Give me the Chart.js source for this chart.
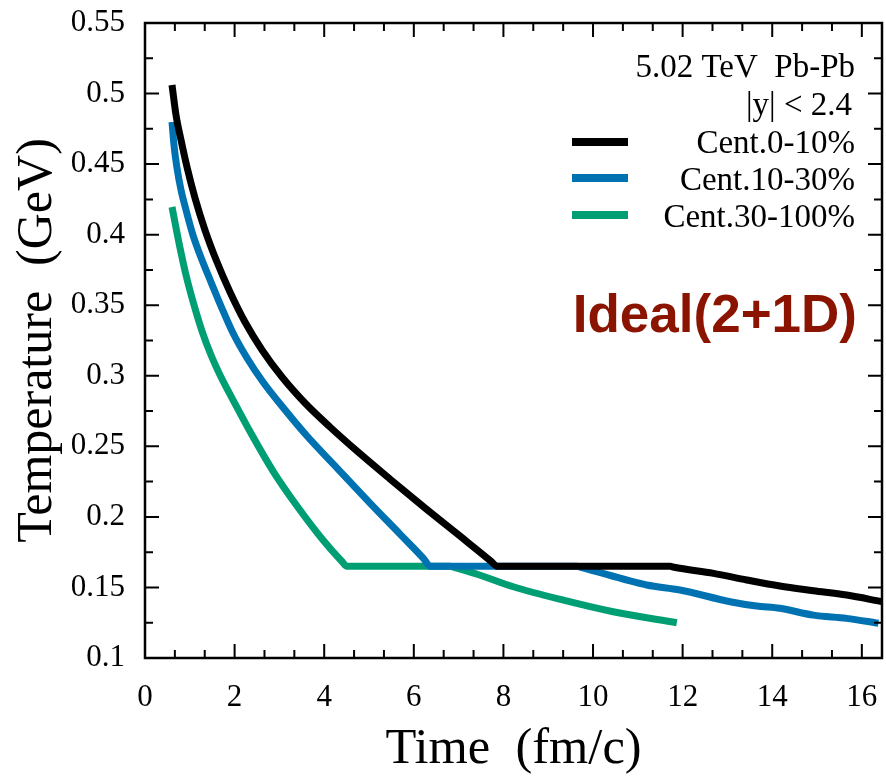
<!DOCTYPE html>
<html>
<head>
<meta charset="utf-8">
<script src="https://cdn.jsdelivr.net/npm/chart.js@4.4.1/dist/chart.umd.min.js"></script>
<style>
  html, body { margin: 0; padding: 0; background: #fff; }
  #wrap { width: 886px; height: 778px; position: relative; }
</style>
</head>
<body>
<div id="wrap"><canvas id="c"></canvas></div>
<script>
// ---- data ----
const seriesLabels = ['Cent.0-10%', 'Cent.10-30%', 'Cent.30-100%'];

const timeCent0_10 = [0.603, 0.692, 0.804, 0.938, 1.116, 1.339, 1.607, 1.897, 2.232, 2.612, 3.058, 3.571, 4.129, 4.754,
                      5.469, 6.250, 7.031, 7.723, 7.857,
                      11.72, 11.81, 12.69, 13.43, 14.17, 14.92, 15.66, 16.44];
const tempCent0_10 = [0.5061, 0.4848, 0.4671, 0.4479, 0.4260, 0.4033, 0.3806, 0.3594, 0.3381, 0.3183, 0.2991, 0.2807, 0.2637, 0.2460,
                      0.2268, 0.2063, 0.1864, 0.1686, 0.165,
                      0.165, 0.1643, 0.160, 0.1553, 0.151, 0.1477, 0.1446, 0.140];

const timeCent10_30 = [0.603, 0.647, 0.714, 0.804, 0.915, 1.071, 1.272, 1.473, 1.696, 1.964, 2.277, 2.634, 3.036, 3.616,
                       4.308, 5.022, 5.692, 6.228, 6.362,
                       9.64, 9.73, 11.20, 11.94, 13.06, 13.65, 14.17, 14.92, 15.66, 16.37];
const tempCent10_30 = [0.4798, 0.4635, 0.4472, 0.4316, 0.4175, 0.3997, 0.3820, 0.3664, 0.3494, 0.3303, 0.3126, 0.2956, 0.2793, 0.2573,
                       0.2339, 0.2098, 0.1878, 0.1701, 0.165,
                       0.165, 0.1643, 0.1517, 0.1482, 0.1399, 0.1368, 0.1352, 0.1304, 0.1281, 0.1246];

const timeCent30_100 = [0.603, 0.759, 0.915, 1.094, 1.272, 1.473, 1.696, 1.942, 2.388, 2.857, 3.393, 3.973, 4.397, 4.509,
                        6.81, 6.90, 7.45, 8.22, 9.34, 10.45, 11.87];
const tempCent30_100 = [0.4196, 0.3941, 0.3714, 0.3501, 0.3317, 0.3147, 0.2991, 0.2842, 0.2580, 0.2325, 0.2077, 0.1836, 0.1684, 0.165,
                        0.165, 0.1643, 0.159, 0.1505, 0.141, 0.1328, 0.125];

const xTickValues = [0, 2, 4, 6, 8, 10, 12, 14, 16];
const xTickLabels = ['0', '2', '4', '6', '8', '10', '12', '14', '16'];
const yTickValues = [0.1, 0.15, 0.2, 0.25, 0.3, 0.35, 0.4, 0.45, 0.5, 0.55];
const yTickLabels = ['0.1', '0.15', '0.2', '0.25', '0.3', '0.35', '0.4', '0.45', '0.5', '0.55'];

const annotationLines = ['5.02 TeV  Pb-Pb', '|y| < 2.4'];
const modelLabel = 'Ideal(2+1D)';

// ---- styles ----
const colors = ['#000000', '#0072b2', '#009e73'];
const serif = '"Liberation Serif", "Times New Roman", serif';

function pts(xs, ys) { return xs.map((v, i) => ({ x: v, y: ys[i] })); }

const datasets = [
  [timeCent0_10, tempCent0_10],
  [timeCent10_30, tempCent10_30],
  [timeCent30_100, tempCent30_100]
].map((d, i) => ({
  label: seriesLabels[i],
  data: pts(d[0], d[1]),
  borderColor: colors[i],
  backgroundColor: colors[i],
  borderWidth: 7,
  pointRadius: 0,
  cubicInterpolationMode: 'monotone',
  fill: false,
  borderCapStyle: 'butt',
  borderJoinStyle: 'round'
}));

const framePlugin = {
  id: 'frame',
  afterDatasetsDraw(chart) {
    const { ctx, chartArea: a, scales: { x, y } } = chart;
    ctx.save();
    ctx.strokeStyle = '#000';
    ctx.lineWidth = 2;
    ctx.beginPath();
    const xMajor = 14, xMinor = 8, yMajor = 14, yMinor = 8;
    const xv = (v, len) => {
      const p = x.getPixelForValue(v);
      if (p < a.left - 0.5 || p > a.right + 0.5) return;
      ctx.moveTo(p, a.bottom); ctx.lineTo(p, a.bottom - len);
      ctx.moveTo(p, a.top); ctx.lineTo(p, a.top + len);
    };
    const yv = (v, len) => {
      const p = y.getPixelForValue(v);
      if (p < a.top - 0.5 || p > a.bottom + 0.5) return;
      ctx.moveTo(a.left, p); ctx.lineTo(a.left + len, p);
      ctx.moveTo(a.right, p); ctx.lineTo(a.right - len, p);
    };
    for (let i = 0; i < xTickValues.length; i++) {
      const v = xTickValues[i];
      xv(v, xMajor);
      const step = (i + 1 < xTickValues.length ? xTickValues[i + 1] : v + 2) - v;
      xv(v + step / 3, xMinor);
      xv(v + 2 * step / 3, xMinor);
    }
    for (let i = 0; i < yTickValues.length; i++) {
      const v = yTickValues[i];
      yv(v, yMajor);
      if (i + 1 < yTickValues.length) yv((v + yTickValues[i + 1]) / 2, yMinor);
    }
    ctx.stroke();
    ctx.lineWidth = 2.5;
    ctx.strokeRect(a.left, a.top, a.right - a.left, a.bottom - a.top);
    ctx.restore();
  }
};

const legendPlugin = {
  id: 'customLegend',
  afterDraw(chart) {
    const { ctx } = chart;
    ctx.save();
    ctx.fillStyle = '#000';
    ctx.font = '33px ' + serif;
    ctx.textAlign = 'right';
    ctx.textBaseline = 'alphabetic';
    ctx.fillText(annotationLines[0], 855, 77);
    ctx.fillText(annotationLines[1], 852, 115);
    const rows = [142, 178, 215];
    const base = [153, 190, 227];
    chart.data.datasets.forEach((ds, i) => {
      ctx.strokeStyle = ds.borderColor;
      ctx.lineWidth = 8;
      ctx.lineCap = 'butt';
      ctx.beginPath();
      ctx.moveTo(572, rows[i]);
      ctx.lineTo(628, rows[i]);
      ctx.stroke();
      ctx.fillStyle = '#000';
      ctx.fillText(ds.label, 855, base[i]);
    });
    ctx.fillStyle = '#8b1400';
    ctx.font = 'bold 53px "Liberation Sans", Arial, sans-serif';
    ctx.fillText(modelLabel, 857, 332);
    ctx.restore();
  }
};

new Chart(document.getElementById('c'), {
  type: 'line',
  data: { datasets },
  options: {
    responsive: true,
    maintainAspectRatio: false,
    animation: false,
    layout: { padding: { left: 0, right: 4, top: 23, bottom: 0 } },
    plugins: { legend: { display: false }, tooltip: { enabled: false } },
    scales: {
      x: {
        type: 'linear',
        min: 0, max: 16.45,
        grid: { display: false, drawTicks: false },
        border: { display: false },
        afterBuildTicks: (s) => { s.ticks = xTickValues.map(v => ({ value: v })); },
        afterFit: (s) => { s.height = 120; s.paddingLeft = 0; s.paddingRight = 0; },
        ticks: {
          autoSkip: false, maxRotation: 0, padding: 21,
          color: '#000',
          font: { family: serif, size: 31 },
          callback: (v) => { const i = xTickValues.indexOf(v); return i >= 0 ? xTickLabels[i] : ''; }
        },
        title: {
          display: true, text: 'Time  (fm/c)', color: '#000',
          font: { family: serif, size: 50.5, lineHeight: 1 },
          padding: { top: 0, bottom: 3 }
        }
      },
      y: {
        type: 'linear',
        min: 0.1, max: 0.55,
        grid: { display: false, drawTicks: false },
        border: { display: false },
        afterBuildTicks: (s) => { s.ticks = yTickValues.map(v => ({ value: v })); },
        afterFit: (s) => { s.width = 145; s.paddingTop = 0; s.paddingBottom = 0; },
        ticks: {
          autoSkip: false, padding: 20,
          color: '#000',
          font: { family: serif, size: 31 },
          callback: (v) => {
            const i = yTickValues.findIndex(t => Math.abs(t - v) < 1e-9);
            return i >= 0 ? yTickLabels[i] : '';
          }
        },
        title: {
          display: true, text: 'Temperature  (GeV)', color: '#000',
          font: { family: serif, size: 50, lineHeight: 1 },
          padding: { top: 13, bottom: 0 }
        }
      }
    }
  },
  plugins: [framePlugin, legendPlugin]
});
</script>
</body>
</html>
